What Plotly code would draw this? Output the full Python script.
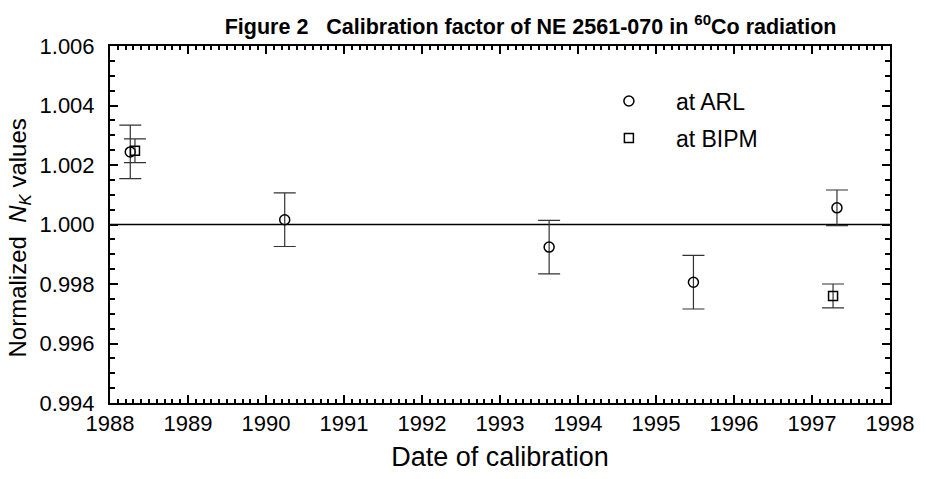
import plotly.graph_objects as go

# ARL calibrations
arl_date = [1988.26, 1990.24, 1993.63, 1995.48, 1997.32]
arl_nk = [1.00244, 1.00016, 0.99924, 0.99806, 1.00056]
arl_err = [0.0009, 0.0009, 0.0009, 0.0009, 0.0006]

# BIPM calibrations
bipm_date = [1988.32, 1997.27]
bipm_nk = [1.00248, 0.99760]
bipm_err = [0.0004, 0.0004]

ref_line = [1.0, 1.0]
ref_x = [1988, 1998]

FONT = "Liberation Sans, Arial, sans-serif"

fig = go.Figure()
fig.add_trace(go.Scatter(x=ref_x, y=ref_line, mode="lines",
                         line=dict(color="black", width=1.5),
                         showlegend=False, hoverinfo="skip"))
fig.add_trace(go.Scatter(
    x=arl_date, y=arl_nk, mode="markers", name="at ARL", legendgroup="a",
    marker=dict(symbol="circle-open", size=10, color="black", line=dict(width=1.5)),
    error_y=dict(type="data", array=arl_err, visible=True, color="#333333",
                 thickness=1.2, width=11)))
fig.add_trace(go.Scatter(
    x=bipm_date, y=bipm_nk, mode="markers", name="at BIPM", legendgroup="b",
    marker=dict(symbol="square-open", size=9, color="black", line=dict(width=1.5)),
    error_y=dict(type="data", array=bipm_err, visible=True, color="#333333",
                 thickness=1.2, width=11)))

axis_common = dict(showline=True, linecolor="black", linewidth=2, mirror="ticks",
                   ticks="inside", ticklen=8, tickwidth=2, tickcolor="black",
                   showgrid=False, zeroline=False,
                   tickfont=dict(family=FONT, size=22, color="black"))

fig.update_xaxes(range=[1988, 1998], dtick=1, tick0=1988, ticklabelstandoff=0,
                 title=dict(text="Date of calibration", font=dict(family=FONT, size=27, color="black"),
                            standoff=12),
                 minor=dict(ticks="inside", ticklen=4, tickwidth=1.5, tickcolor="black", dtick=0.1),
                 **axis_common)
fig.update_yaxes(range=[0.994, 1.006], dtick=0.002, tick0=0.994, tickformat=".3f",
                 ticklabelstandoff=9, automargin=False,
                 title=dict(text="Normalized  <i>N</i><sub><i>K</i></sub> values&nbsp;&nbsp;&nbsp;&nbsp;",
                            font=dict(family=FONT, size=24, color="black"), standoff=6),
                 minor=dict(ticks="inside", ticklen=5, tickwidth=2, tickcolor="black", dtick=0.0005),
                 **axis_common)

fig.update_layout(
    width=926, height=479,
    margin=dict(l=110, r=25, t=46, b=73),
    paper_bgcolor="white", plot_bgcolor="white",
    title=dict(text="<b>Figure 2   Calibration factor of NE 2561-070 in <sup>60</sup>Co radiation</b>",
               font=dict(family=FONT, size=21.5, color="black"),
               x=0.573, xanchor="center", y=0.944, yanchor="middle"),
    legend=dict(x=0.605, y=0.906, xanchor="left", yanchor="top",
                bgcolor="rgba(0,0,0,0)", itemwidth=84,
                font=dict(family=FONT, size=23, color="black"),
                tracegroupgap=4),
    showlegend=True,
)

fig.write_html("out.html", config={"displayModeBar": False},
               post_script="document.body.style.margin='0';document.body.style.overflow='hidden';")
